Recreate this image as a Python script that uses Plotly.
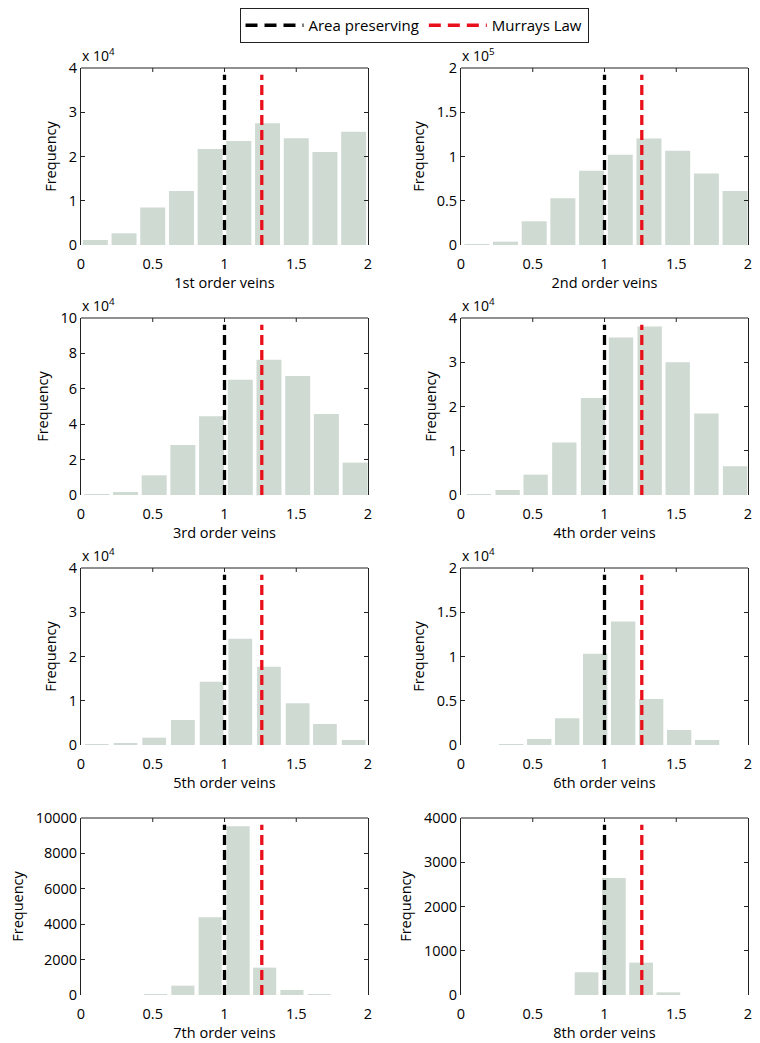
import plotly.graph_objects as go

# ---------------- data ----------------
panel_titles = ["1st order veins", "2nd order veins", "3rd order veins", "4th order veins",
                "5th order veins", "6th order veins", "7th order veins", "8th order veins"]

bin_centers = [
    [0.10, 0.30, 0.50, 0.70, 0.90, 1.10, 1.30, 1.50, 1.70, 1.90],
    [0.11, 0.31, 0.51, 0.71, 0.91, 1.11, 1.31, 1.51, 1.71, 1.91],
    [0.11, 0.31, 0.51, 0.71, 0.91, 1.11, 1.31, 1.51, 1.71, 1.91],
    [0.125, 0.325, 0.52, 0.72, 0.92, 1.115, 1.315, 1.51, 1.71, 1.91],
    [0.11, 0.31, 0.51, 0.71, 0.91, 1.11, 1.31, 1.51, 1.70, 1.90],
    [0.155, 0.35, 0.545, 0.74, 0.935, 1.13, 1.325, 1.52, 1.715, 1.91],
    [0.14, 0.33, 0.52, 0.71, 0.90, 1.095, 1.28, 1.47, 1.66, 1.85],
    [0.115, 0.305, 0.495, 0.685, 0.875, 1.065, 1.255, 1.445, 1.635, 1.825],
]

frequencies = [
    [1130, 2640, 8450, 12230, 21700, 23500, 27500, 24100, 21000, 25600],
    [500, 3800, 26800, 52800, 83800, 101900, 120400, 106400, 80800, 61100],
    [100, 1700, 11100, 28300, 44500, 65100, 76400, 67200, 45800, 18300],
    [100, 1130, 4600, 11850, 21900, 35600, 38100, 30000, 18400, 6500],
    [50, 400, 1660, 5660, 14300, 24000, 17700, 9430, 4750, 1130],
    [0, 75, 680, 3020, 10300, 13960, 5210, 1700, 570, 0],
    [0, 0, 10, 528, 4396, 9528, 1547, 283, 30, 0],
    [0, 0, 0, 0, 513, 2642, 732, 60, 0, 0],
]

y_max = [4e4, 2e5, 10e4, 4e4, 4e4, 2e4, 10000, 4000]
y_ticks = [
    [0, 1e4, 2e4, 3e4, 4e4],
    [0, 0.5e5, 1e5, 1.5e5, 2e5],
    [0, 2e4, 4e4, 6e4, 8e4, 10e4],
    [0, 1e4, 2e4, 3e4, 4e4],
    [0, 1e4, 2e4, 3e4, 4e4],
    [0, 0.5e4, 1e4, 1.5e4, 2e4],
    [0, 2000, 4000, 6000, 8000, 10000],
    [0, 1000, 2000, 3000, 4000],
]
y_ticktext = [
    ["0", "1", "2", "3", "4"],
    ["0", "0.5", "1", "1.5", "2"],
    ["0", "2", "4", "6", "8", "10"],
    ["0", "1", "2", "3", "4"],
    ["0", "1", "2", "3", "4"],
    ["0", "0.5", "1", "1.5", "2"],
    ["0", "2000", "4000", "6000", "8000", "10000"],
    ["0", "1000", "2000", "3000", "4000"],
]
exponents = [4, 5, 4, 4, 4, 4, None, None]

x_ticks = [0, 0.5, 1, 1.5, 2]
x_ticktext = ["0", "0.5", "1", "1.5", "2"]

area_preserving = 1.0
murrays_law = 2 ** (1 / 3)
line_top_fraction = 0.962

# ---------------- styling ----------------
W, H = 760, 1043
FONT = "Open Sans"
FS = 14.5
BAR_COLOR = "#cfdad3"
col_px = [(81, 368), (461, 748)]
row_px = [(68, 245), (318, 495), (568, 745), (818, 995)]

fig = go.Figure()
shapes = []
annotations = []
layout = {}

for i in range(8):
    n = i + 1
    sfx = "" if n == 1 else str(n)
    r, c = divmod(i, 2)
    xa, ya = "x" + sfx, "y" + sfx

    fig.add_trace(go.Bar(x=bin_centers[i], y=frequencies[i], xaxis=xa, yaxis=ya,
                         marker=dict(color=BAR_COLOR, line=dict(width=0)),
                         showlegend=False, hoverinfo="x+y"))
    ytop = y_max[i] * line_top_fraction
    fig.add_trace(go.Scatter(x=[area_preserving, area_preserving], y=[0, ytop], mode="lines",
                             xaxis=xa, yaxis=ya, showlegend=False,
                             line=dict(color="black", width=3.3, dash="10px,5px")))
    fig.add_trace(go.Scatter(x=[murrays_law, murrays_law], y=[0, ytop], mode="lines",
                             xaxis=xa, yaxis=ya, showlegend=False,
                             line=dict(color="#e8101a", width=3.3, dash="10px,5px")))

    x0, x1 = col_px[c]
    yt, yb = row_px[r]
    layout["xaxis" + sfx] = dict(
        domain=[x0 / W, x1 / W], anchor=ya, range=[0, 2],
        tickvals=x_ticks, ticktext=x_ticktext,
        ticks="outside", ticklen=6, tickcolor="rgba(0,0,0,0)", showline=False,
        showgrid=False, zeroline=False, ticklabeloverflow="allow",
        tickfont=dict(family=FONT, size=FS, color="black"),
        title=dict(text=panel_titles[i], font=dict(family=FONT, size=FS, color="black"),
                   standoff=5),
        automargin=False,
    )
    layout["yaxis" + sfx] = dict(
        domain=[1 - yb / H, 1 - yt / H], anchor=xa, range=[0, y_max[i]],
        tickvals=y_ticks[i], ticktext=y_ticktext[i], ticks="inside", ticklen=4,
        tickwidth=1, tickcolor="#222", showline=True, linecolor="#222", linewidth=1,
        mirror="ticks", showgrid=False, zeroline=False, ticklabeloverflow="allow",
        tickfont=dict(family=FONT, size=FS, color="black"),
        title=dict(text="Frequency", font=dict(family=FONT, size=FS, color="black"),
                   standoff=8),
        automargin=False,
    )
    # top frame line and top ticks
    shapes.append(dict(type="line", xref=xa + " domain", yref=ya + " domain",
                       x0=0, x1=1, y0=1, y1=1, line=dict(color="#222", width=1)))
    tick_frac = 4 / (yb - yt)
    for tv in x_ticks[1:-1]:
        shapes.append(dict(type="line", xref=xa, yref=ya + " domain",
                           x0=tv, x1=tv, y0=1, y1=1 - tick_frac,
                           line=dict(color="#222", width=1)))
    if exponents[i] is not None:
        annotations.append(dict(text="x 10<sup>%d</sup>" % exponents[i],
                                xref=xa + " domain", yref=ya + " domain", x=0, y=1,
                                xanchor="left", yanchor="bottom", showarrow=False,
                                xshift=-1, yshift=1,
                                font=dict(family=FONT, size=14, color="black")))

# legend-only entries
fig.add_trace(go.Scatter(x=[None], y=[None], mode="lines", name="Area preserving",
                         line=dict(color="black", width=3.5, dash="12px,7px")))
fig.add_trace(go.Scatter(x=[None], y=[None], mode="lines", name="Murrays Law",
                         line=dict(color="#e8101a", width=3.5, dash="12px,7px")))

fig.update_layout(
    width=W, height=H, autosize=False,
    margin=dict(l=0, r=0, t=0, b=0),
    paper_bgcolor="white", plot_bgcolor="white",
    bargap=0.13,
    font=dict(family=FONT, size=FS, color="black"),
    shapes=shapes, annotations=annotations,
    legend=dict(orientation="h", x=414 / W, xanchor="center", y=1 - 8 / H, yanchor="top",
                bordercolor="#222", borderwidth=1, bgcolor="white",
                font=dict(family=FONT, size=15, color="black"),
                itemwidth=58, tracegroupgap=0),
    **layout,
)

fig.write_html("out.html", config={"displayModeBar": False},
               post_script="document.body.style.margin='0';document.body.style.overflow='hidden';")
